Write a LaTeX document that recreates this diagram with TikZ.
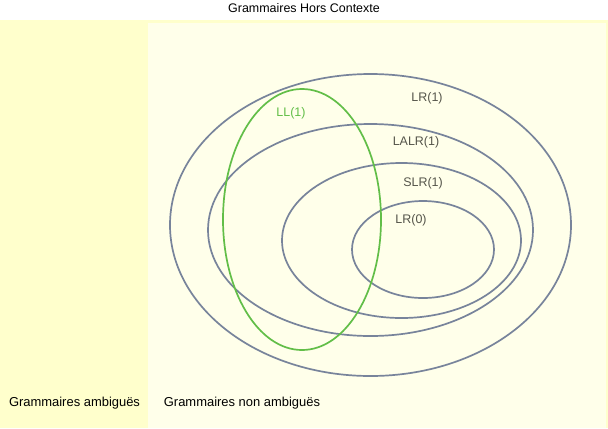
\documentclass[tikz,border=0pt]{standalone}
\usepackage{fontspec}
\setmainfont{Liberation Sans}
\usetikzlibrary{shapes}
\usetikzlibrary{positioning}
\definecolor{lanefill}{RGB}{255,255,204}
\definecolor{panefill}{RGB}{255,255,234}
\definecolor{setgray}{RGB}{120,132,155}
\definecolor{llgreen}{RGB}{98,190,72}
\definecolor{labgray}{RGB}{85,85,75}
\tikzset{
    lane/.style = {rectangle, draw=none, fill=lanefill, anchor=north west, inner sep=0pt},
    pane/.style = {rectangle, draw=none, fill=panefill, anchor=north west, inner sep=0pt},
    setnode/.style = {ellipse, draw=setgray, line width=1.7bp, inner sep=0pt},
    setnodeg/.style = {ellipse, draw=llgreen, line width=1.7bp, inner sep=0pt},
    setlab/.style = {text=labgray, font=\fontsize{12.5}{14}\selectfont, inner sep=0pt},
    setlabg/.style = {text=llgreen, font=\fontsize{12.5}{14}\selectfont, inner sep=0pt},
    lanelab/.style = {text=black, font=\fontsize{13}{15}\selectfont, inner sep=0pt}
}
\begin{document}
\begin{tikzpicture}[x=1bp,y=-1bp]
%
\useasboundingbox (0,0) rectangle (608,428);
\node[lane, minimum width=608bp, minimum height=408bp] at (0,20) (ctx) {};
\node[pane, minimum width=458bp, minimum height=405bp] at (148,23) (nonamb) {};
\node[lanelab, font=\fontsize{12.5}{14}\selectfont] at (304,8) (title) {Grammaires Hors Contexte};
\node[lanelab] at (74.5,403) (amb) {Grammaires ambiguës};
\node[lanelab] at (242,403) (nonamblab) {Grammaires non ambiguës};
%
\node[setnode, minimum width=401bp, minimum height=302bp] at (370.5,225) (lr1) {};
\node[setnode, minimum width=325bp, minimum height=212bp] at (370.5,230) (lalr) {};
\node[setnode, minimum width=239bp, minimum height=155bp] at (401.5,240.5) (slr) {};
\node[setnode, minimum width=142bp, minimum height=97bp] at (423,249.5) (lr0) {};
\node[setnodeg, minimum width=158bp, minimum height=261bp] at (302,219.5) (ll1) {};
%
\node[setlab] at (427,98) (lr1lab) {LR(1)};
\node[setlab] at (416,142) (lalrlab) {LALR(1)};
\node[setlab] at (423,183) (slrlab) {SLR(1)};
\node[setlab] at (411,220) (lr0lab) {LR(0)};
\node[setlabg] at (291,113) (ll1lab) {LL(1)};
\end{tikzpicture}
\end{document}
